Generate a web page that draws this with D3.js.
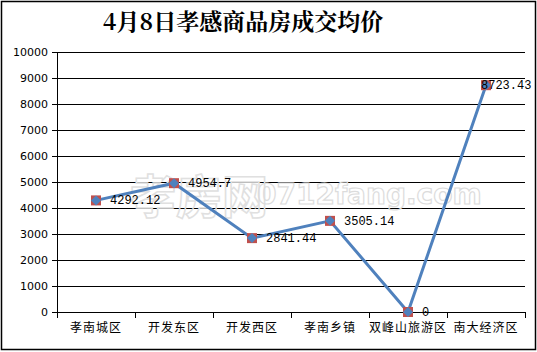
<!DOCTYPE html>
<html>
<head>
<meta charset="utf-8">
<script src="https://cdn.jsdelivr.net/npm/d3@7"></script>
<style>
  body { margin: 0; background: #fff; }
</style>
</head>
<body>
<div id="chart"></div>
<script>
const categories = ["孝南城区", "开发东区", "开发西区", "孝南乡镇", "双峰山旅游区", "南大经济区"];
const prices = [4292.12, 4954.7, 2841.44, 3505.14, 0, 8723.43];
const priceLabels = ["4292.12", "4954.7", "2841.44", "3505.14", "0", "8723.43"];
const yTicks = [0, 1000, 2000, 3000, 4000, 5000, 6000, 7000, 8000, 9000, 10000];

const W = 537, H = 352;
const margin = { top: 52, right: 12, bottom: 40, left: 57 };
const width = W - margin.left - margin.right;
const height = H - margin.top - margin.bottom;

const svg = d3.select("#chart").append("svg")
  .attr("width", W)
  .attr("height", H);

// frame
svg.append("rect")
  .attr("x", 1.5).attr("y", 1.5)
  .attr("width", W - 3).attr("height", H - 4)
  .attr("fill", "#fff")
  .attr("stroke", "#000")
  .attr("stroke-width", 1.5);

// title
svg.append("text")
  .attr("x", 243)
  .attr("y", 30)
  .attr("text-anchor", "middle")
  .style("font-family", "'Noto Serif CJK SC', 'Noto Sans CJK SC', serif")
  .style("font-size", "23px")
  .style("font-weight", "bold")
  .text("4月8日孝感商品房成交均价");

const g = svg.append("g")
  .attr("transform", `translate(${margin.left},${margin.top})`);

const x = d3.scaleBand()
  .domain(categories)
  .range([0, width]);

const y = d3.scaleLinear()
  .domain([0, 10000])
  .range([height, 0]);

// grid
g.selectAll(".grid")
  .data(yTicks.filter(d => d > 0))
  .enter().append("line")
  .attr("x1", 0).attr("x2", width)
  .attr("y1", d => Math.round(y(d)) + 0.5)
  .attr("y2", d => Math.round(y(d)) + 0.5)
  .attr("stroke", "#000");

// watermark
g.append("text")
  .attr("x", 73)
  .attr("y", 161)
  .style("font-family", "'Noto Sans CJK SC', sans-serif")
  .style("font-size", "46px")
  .style("font-weight", "bold")
  .style("fill", "none")
  .style("stroke", "#e0e0e0")
  .style("stroke-width", 1.5)
  .text("孝房网");
g.append("text")
  .attr("x", 200)
  .attr("y", 152)
  .style("font-family", "'DejaVu Sans', sans-serif")
  .style("font-size", "28px")
  .style("font-weight", "bold")
  .style("fill", "none")
  .style("stroke", "#dcdcdc")
  .style("stroke-width", 1.2)
  .text("0712fang.com");

// y axis
const yAxis = g.append("g")
  .call(d3.axisLeft(y).tickValues(yTicks).tickSize(5).tickFormat(d3.format("d")));
yAxis.select(".domain").attr("stroke", "#000");
yAxis.selectAll("text")
  .style("font-family", "'DejaVu Sans', sans-serif")
  .style("font-size", "11px")
  .attr("x", -9)
  .attr("fill", "#000");

// x axis with ticks between categories
const xAxis = g.append("g")
  .attr("transform", `translate(0,${height})`);
xAxis.append("line")
  .attr("x1", 0).attr("x2", width)
  .attr("y1", 0.5).attr("y2", 0.5)
  .attr("stroke", "#000");
xAxis.selectAll(".sep")
  .data(d3.range(categories.length + 1))
  .enter().append("line")
  .attr("x1", i => Math.round(i * x.bandwidth()) + 0.5)
  .attr("x2", i => Math.round(i * x.bandwidth()) + 0.5)
  .attr("y1", 0).attr("y2", 6)
  .attr("stroke", "#000");
xAxis.selectAll(".cat")
  .data(categories)
  .enter().append("text")
  .attr("x", d => x(d) + x.bandwidth() / 2)
  .attr("y", 20)
  .attr("text-anchor", "middle")
  .style("font-family", "'Noto Sans CJK SC', sans-serif")
  .style("font-size", "12px")
  .style("letter-spacing", "1px")
  .text(d => d);

const cx = d => x(d) + x.bandwidth() / 2;

// line
const line = d3.line()
  .x((d, i) => cx(categories[i]))
  .y(d => y(d));

g.append("path")
  .datum(prices)
  .attr("d", line)
  .attr("fill", "none")
  .attr("stroke", "#4f81bd")
  .attr("stroke-width", 3);

// markers
const pts = g.selectAll(".pt")
  .data(prices)
  .enter().append("g")
  .attr("transform", (d, i) => `translate(${cx(categories[i])},${y(d)})`);

pts.append("rect")
  .attr("x", -5).attr("y", -5)
  .attr("width", 10).attr("height", 10)
  .attr("fill", "#c0504d");

pts.append("path")
  .attr("d", "M0,-5L5,0L0,5L-5,0Z")
  .attr("fill", "#4f81bd");

// value labels
pts.append("text")
  .attr("x", (d, i) => i === 5 ? -5 : 14)
  .attr("y", 4)
  .style("font-family", "'Liberation Mono', 'DejaVu Sans Mono', monospace")
  .style("font-size", "12px")
  .text((d, i) => priceLabels[i]);
</script>
</body>
</html>
